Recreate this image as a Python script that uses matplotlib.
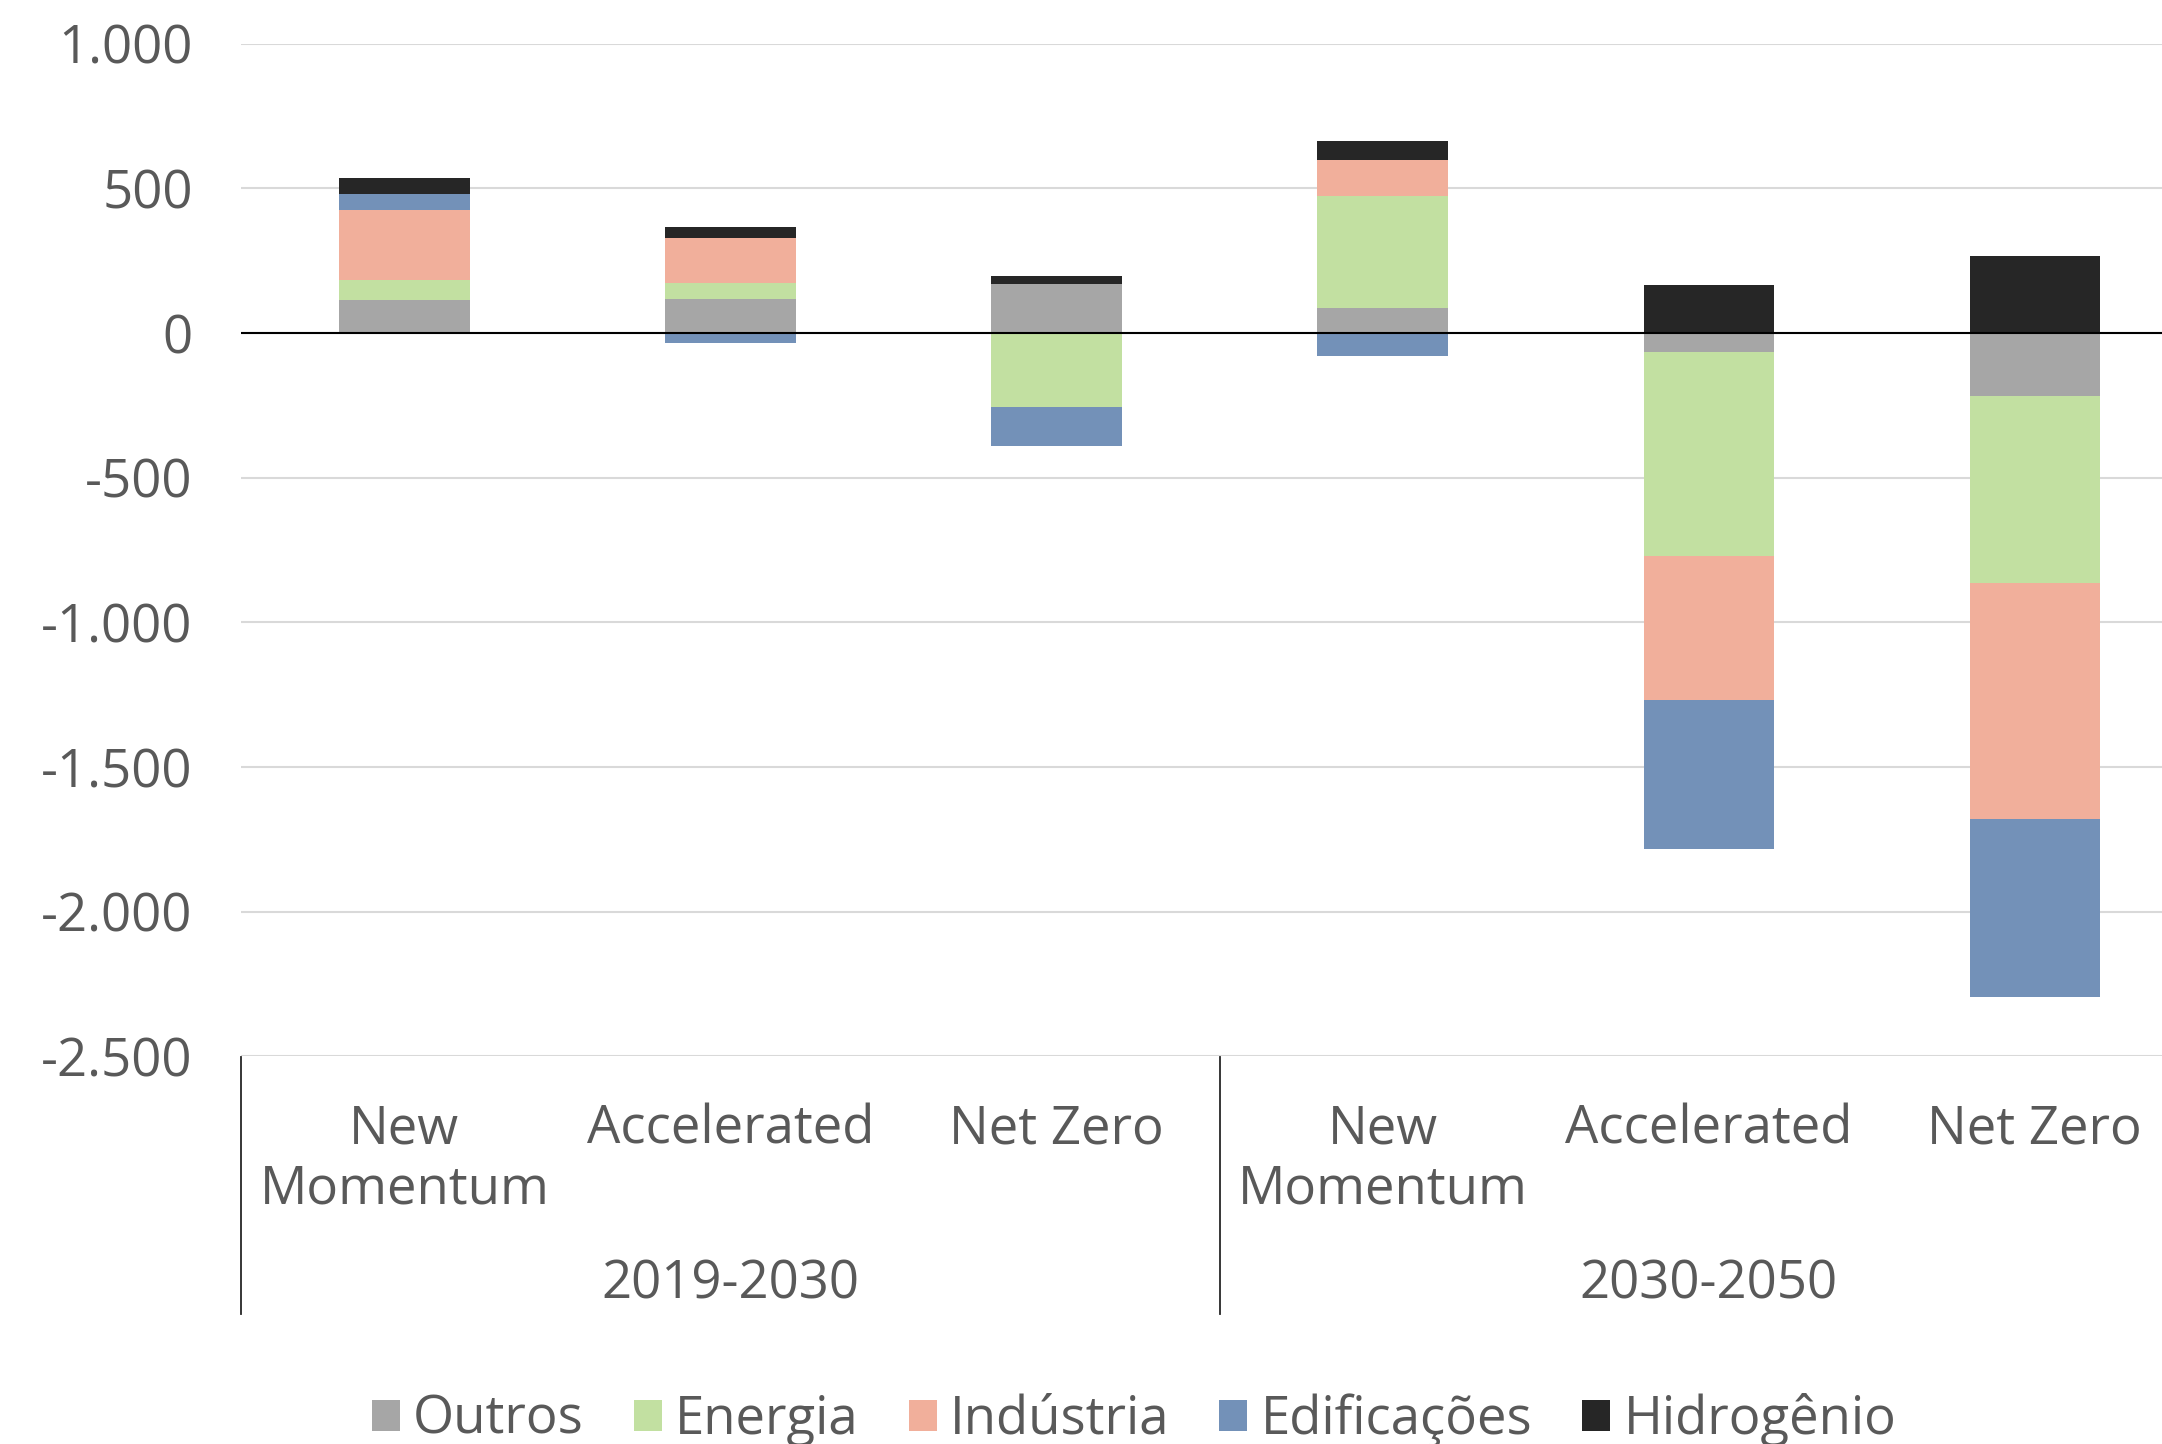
import numpy as np
import matplotlib.pyplot as plt
import matplotlib.transforms as mtransforms
from matplotlib.patches import Patch
from matplotlib.ticker import FuncFormatter

# scenario labels and periods
scenarios = ["New\nMomentum", "Accelerated", "Net Zero",
             "New\nMomentum", "Accelerated", "Net Zero"]
periods = ["2019-2030", "2030-2050"]

series_names = ["Outros", "Energia", "Indústria", "Edificações", "Hidrogênio"]
outros = [115, 119, 169, 86, -67, -217]
energia = [67, 54, -257, 389, -705, -647]
industria = [244, 154, 0, 123, -496, -817]
edificacoes = [54, -33, -132, -79, -516, -612]
hidrogenio = [54, 38, 28, 67, 167, 267]

colors = ["#A6A6A6", "#C2E0A1", "#F1AF9B", "#7391B8", "#262626"]
text_color = "#595959"

plt.rcParams["font.family"] = ["Open Sans", "DejaVu Sans"]
fs = 38

W, H = 2162, 1444
fig = plt.figure(figsize=(W / 100, H / 100), dpi=100)
ax = fig.add_axes([0.1116, 0.2684, 0.905, 0.7014])

x = np.arange(len(scenarios))
pos_base = np.zeros(len(x))
neg_base = np.zeros(len(x))
for name, vals, c in zip(series_names,
                         [outros, energia, industria, edificacoes, hidrogenio],
                         colors):
    v = np.array(vals, dtype=float)
    bottom = np.where(v >= 0, pos_base, neg_base)
    ax.bar(x, v, bottom=bottom, width=0.4, color=c, linewidth=0, zorder=3)
    pos_base += np.where(v > 0, v, 0)
    neg_base += np.where(v < 0, v, 0)

ax.set_xlim(-0.5, 5.5)
ax.set_ylim(-2500, 1000)
ax.set_yticks(np.arange(-2500, 1001, 500))
ax.yaxis.set_major_formatter(FuncFormatter(lambda v, p: f"{int(v):,}".replace(",", ".")))
ax.tick_params(axis="y", length=0, pad=35, labelsize=fs, labelcolor=text_color)
ax.set_xticks([])
ax.grid(axis="y", color="#D9D9D9", linewidth=1.5, zorder=0)
ax.axhline(0, color="black", linewidth=1.5, zorder=4)
for s in ax.spines.values():
    s.set_visible(False)

# category axis: labels and group separators
trans = mtransforms.blended_transform_factory(ax.transData, fig.transFigure)
for xi, lab in zip(x, scenarios):
    ax.text(xi, 1 - 1103 / H, lab, transform=trans, ha="center", va="top",
            fontsize=fs, color=text_color, linespacing=1.15)
for gi, g in enumerate(periods):
    ax.text(1 + 3 * gi, 1 - 1285 / H, g, transform=trans, ha="center",
            va="center", fontsize=fs, color=text_color)
for xs in [-0.5, 2.5, 5.5]:
    ax.plot([xs, xs], [1 - 1057 / H, 1 - 1314 / H], transform=trans,
            color="#262626", linewidth=1.3, clip_on=False)

handles = [Patch(facecolor=c, edgecolor="none") for c in colors]
fig.legend(handles, series_names, loc="center", bbox_to_anchor=(0.5245, 1 - 1420 / H),
           ncol=5, frameon=False, fontsize=fs, handlelength=0.53, handleheight=0.53,
           handletextpad=0.25, columnspacing=0.95, labelcolor=text_color,
           borderpad=0, borderaxespad=0)

fig.savefig("out.png", dpi=100)
